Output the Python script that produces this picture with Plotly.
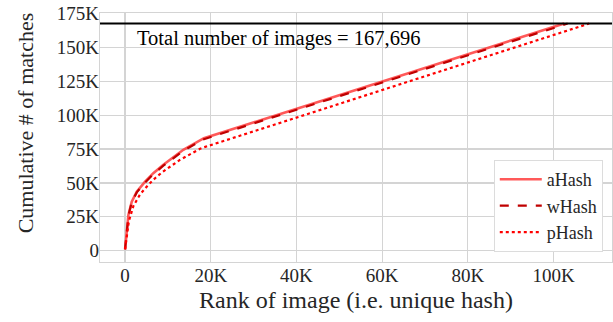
import plotly.graph_objects as go

# ---- data ----
TOTAL_IMAGES = 167696

rank_ahash = [0, 390, 780, 1560, 2730, 4670, 6600, 8940, 13600, 18400, 102500]
matches_ahash = [1000, 14000, 26400, 36200, 43600, 51000, 57200, 63400, 74500, 83000, 167696]

rank_whash = [0, 390, 780, 1560, 2730, 4670, 6600, 8940, 13600, 18400, 103300]
matches_whash = [1000, 13600, 25800, 35600, 43000, 50300, 56500, 62700, 73800, 82300, 167696]

rank_phash = [0, 400, 900, 1950, 3500, 5400, 7000, 8700, 12800, 17500, 18700, 108300]
matches_phash = [1000, 12000, 22000, 33000, 41500, 48500, 53500, 58000, 67000, 75200, 76600, 167696]

x_tickvals = [0, 20000, 40000, 60000, 80000, 100000]
x_ticktext = ["0", "20K", "40K", "60K", "80K", "100K"]
y_tickvals = [0, 25000, 50000, 75000, 100000, 125000, 150000, 175000]
y_ticktext = ["0", "25K", "50K", "75K", "100K", "125K", "150K", "175K"]

FONT = "Liberation Serif, Times New Roman, serif"
TXT = "#262626"
GRID = "#d4d4d4"

fig = go.Figure()
fig.add_trace(go.Scatter(x=rank_ahash, y=matches_ahash, mode="lines", name="aHash",
                         line=dict(color="rgba(255,60,60,0.85)", width=2.6)))
fig.add_trace(go.Scatter(x=rank_whash, y=matches_whash, mode="lines", name="wHash",
                         line=dict(color="#c00000", width=2.2, dash="dash")))
fig.add_trace(go.Scatter(x=rank_phash, y=matches_phash, mode="lines", name="pHash",
                         line=dict(color="#ff0000", width=2.2, dash="dot")))

fig.add_hline(y=TOTAL_IMAGES, line=dict(color="black", width=2))
fig.add_annotation(x=2300, y=TOTAL_IMAGES, xref="x", yref="y", xanchor="left", yanchor="top",
                   text=f"Total number of images = {TOTAL_IMAGES:,}", showarrow=False,
                   font=dict(family=FONT, size=20.5, color="black"), yshift=-1)

fig.add_annotation(x=-0.146, y=0.558, xref="paper", yref="paper", textangle=-90,
                   xanchor="center", yanchor="middle",
                   text="Cumulative # of matches", showarrow=False,
                   font=dict(family=FONT, size=22, color=TXT))
fig.add_annotation(x=0.5, y=-0.153, xref="paper", yref="paper",
                   xanchor="center", yanchor="middle",
                   text="Rank of image (i.e. unique hash)", showarrow=False,
                   font=dict(family=FONT, size=24, color=TXT))

fig.update_layout(
    width=613, height=322,
    margin=dict(l=100, r=1, t=13, b=60, autoexpand=False),
    paper_bgcolor="white", plot_bgcolor="white",
    font=dict(family=FONT, color=TXT, size=19),
    hovermode=False,
    showlegend=True,
    legend=dict(x=0.982, y=0.04, xanchor="right", yanchor="bottom",
                bgcolor="white", bordercolor="#dcdcdc", borderwidth=1,
                font=dict(family=FONT, size=18, color=TXT), itemwidth=42,
                tracegroupgap=0),
)
fig.update_xaxes(range=[-5850, 113650], tickvals=x_tickvals, ticktext=x_ticktext,
                 showgrid=True, gridcolor=GRID, gridwidth=1.2, zeroline=False,
                 showline=True, linecolor=GRID, linewidth=1.2, mirror=True,
                 ticks="", ticklabelstandoff=-4, ticklabeloverflow="allow", automargin=False,
                 tickfont=dict(family=FONT, size=19, color=TXT))
fig.update_yaxes(range=[-8400, 175500], tickvals=y_tickvals, ticktext=y_ticktext,
                 showgrid=True, gridcolor=GRID, gridwidth=1.2, zeroline=False,
                 showline=True, linecolor=GRID, linewidth=1.2, mirror=True,
                 ticks="", ticklabelstandoff=-4, ticklabeloverflow="allow", automargin=False,
                 tickfont=dict(family=FONT, size=19, color=TXT))

# remove the page's default 8px body margin so the figure sits at the window origin
fig.write_html("out.html", config={"displayModeBar": False, "staticPlot": True},
               post_script="document.body.style.margin='0px';")
